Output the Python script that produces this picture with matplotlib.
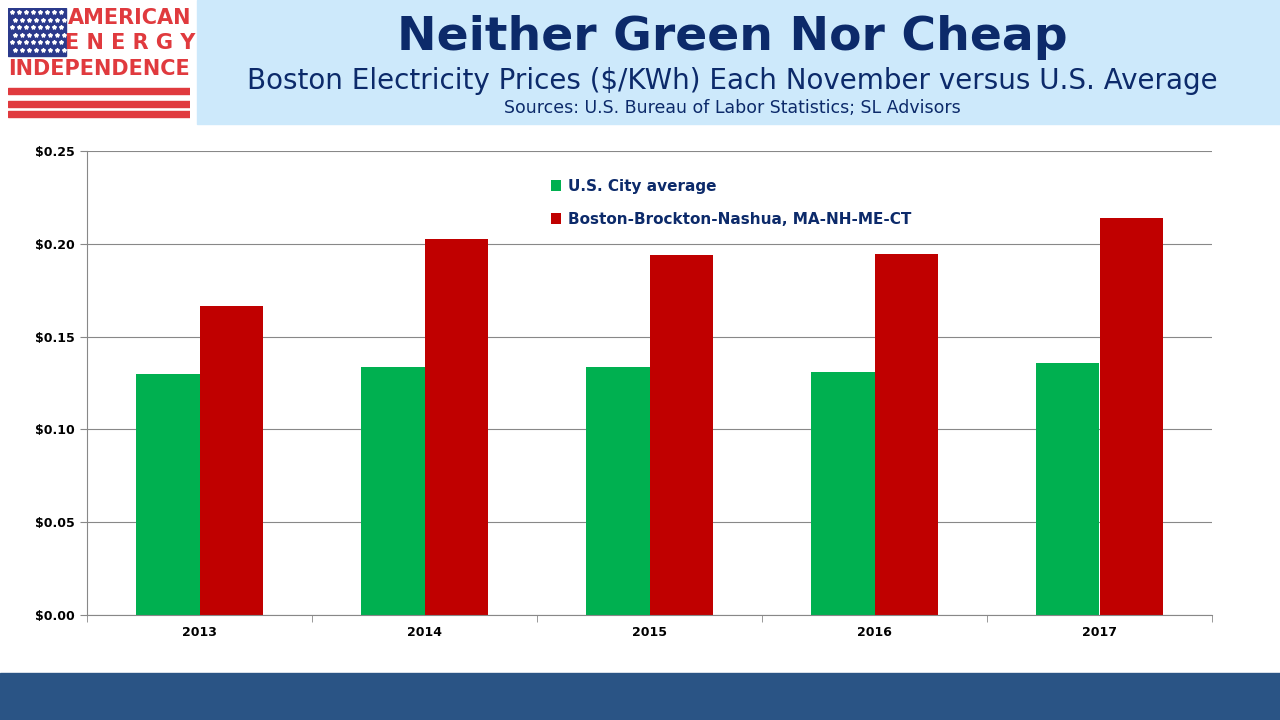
import numpy as np
import matplotlib.pyplot as plt
from matplotlib.patches import Rectangle

years = ['2013', '2014', '2015', '2016', '2017']
us_avg = [0.130, 0.1336, 0.1336, 0.131, 0.1358]
boston = [0.1665, 0.2026, 0.194, 0.1945, 0.214]

fig = plt.figure(figsize=(12.8, 7.2), dpi=100)
fig.patch.set_facecolor('white')

# header band and footer
fig.patches.append(Rectangle((197/1280, 1-124/720), 1-197/1280, 124/720,
                             transform=fig.transFigure, color='#cde9fb', zorder=0))
fig.patches.append(Rectangle((0, 0), 1, 47/720, transform=fig.transFigure,
                             color='#2a5485', zorder=0))

# logo
lx = fig.add_axes([8/1280, 1-120/720, 182/1280, 112/720])
lx.set_xlim(0, 182); lx.set_ylim(112, 0); lx.axis('off')
lx.add_patch(Rectangle((0, 0), 58, 48, color='#2b3a8c'))
for r in range(6):
    for c in range(8):
        lx.plot(4 + c*7 + (r % 2)*3, 4 + r*7.5, marker='*', color='white', ms=3)
for y in (80, 93, 103):
    lx.add_patch(Rectangle((0, y), 182, 6, color='#e03a3e'))
lx.text(122, 10, 'AMERICAN', color='#e03a3e', fontsize=15, fontweight='bold', ha='center', va='center')
lx.text(122, 35, 'E N E R G Y', color='#e03a3e', fontsize=15, fontweight='bold', ha='center', va='center')
lx.text(91, 61, 'INDEPENDENCE', color='#e03a3e', fontsize=15, fontweight='bold', ha='center', va='center')

fig.text(732/1280, 1-38/720, 'Neither Green Nor Cheap', fontsize=34, fontweight='bold',
         color='#0c2a6a', ha='center', va='center')
fig.text(732/1280, 1-81/720, 'Boston Electricity Prices ($/KWh) Each November versus U.S. Average',
         fontsize=20, color='#0c2a6a', ha='center', va='center')
fig.text(732/1280, 1-108/720, 'Sources: U.S. Bureau of Labor Statistics; SL Advisors',
         fontsize=12.5, color='#0c2a6a', ha='center', va='center')

ax = fig.add_axes([87/1280, 1-615/720, 1125/1280, 464/720])
x = np.arange(len(years))
w = 0.284
ax.bar(x - w/2, us_avg, w, color='#00b050', label='U.S. City average', zorder=2)
ax.bar(x + w/2, boston, w, color='#c00000', label='Boston-Brockton-Nashua, MA-NH-ME-CT', zorder=2)
ax.set_xlim(-0.5, len(years) - 0.5)
ax.set_ylim(0, 0.25)
ax.set_yticks(np.arange(0, 0.251, 0.05))
ax.set_yticklabels([f'${v:.2f}' for v in np.arange(0, 0.251, 0.05)], fontsize=9, fontweight='bold')
ax.set_xticks(x)
ax.set_xticklabels(years, fontsize=9, fontweight='bold')
ax.set_xticks(np.arange(-0.5, len(years)), minor=True)
ax.tick_params(axis='x', which='major', length=0, pad=8)
ax.tick_params(axis='x', which='minor', length=5, color='#888888')
ax.tick_params(axis='y', length=5, color='#888888')
ax.grid(axis='y', color='#888888', linewidth=0.8, zorder=0)
for s in ('top', 'right'):
    ax.spines[s].set_visible(False)
for s in ('left', 'bottom'):
    ax.spines[s].set_color('#888888')
leg = ax.legend(loc='upper left', bbox_to_anchor=(0.4, 0.97), frameon=False,
                prop={'weight': 'bold', 'size': 11}, labelspacing=1.2,
                handlelength=0.7, handleheight=0.7, handletextpad=0.4)
for t in leg.get_texts():
    t.set_color('#0c2a6a')

fig.savefig('out.png', dpi=100)
